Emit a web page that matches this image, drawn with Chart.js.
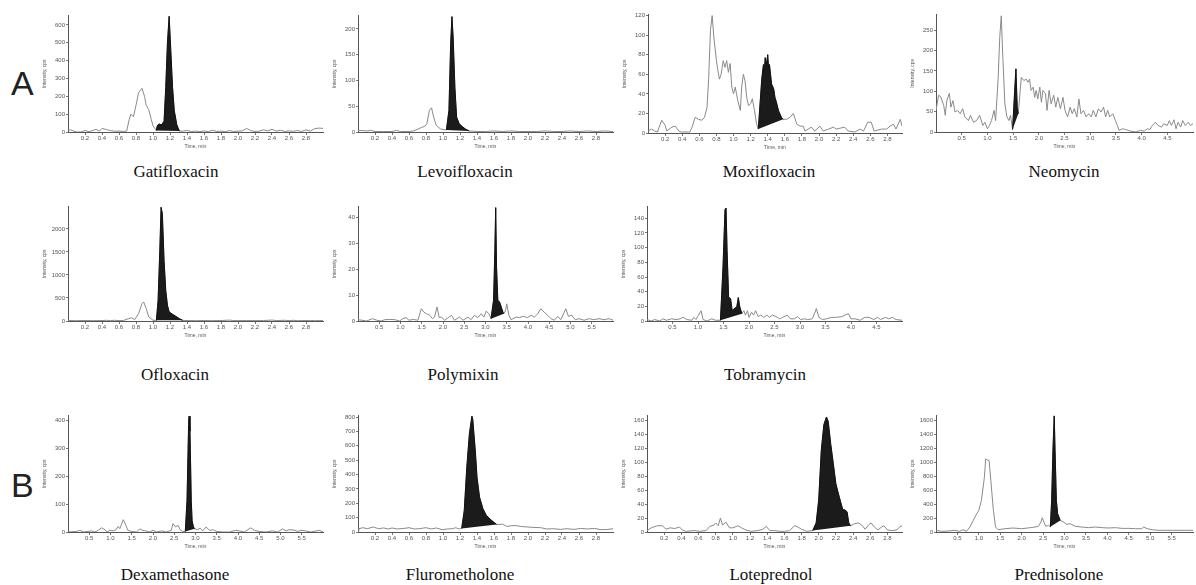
<!DOCTYPE html>
<html>
<head>
<meta charset="utf-8">
<script src="https://cdn.jsdelivr.net/npm/chart.js@4.4.0/dist/chart.umd.min.js"></script>
<style>
body{margin:0;background:#fff;}
#fig{position:relative;width:1196px;height:585px;overflow:hidden;background:#fff;}
#fig canvas{position:absolute;}
.name{position:absolute;font-family:"Liberation Serif","Times New Roman",serif;font-size:17px;color:#111;transform:translate(-50%,-50%);white-space:nowrap;}
.tag{position:absolute;font-family:"Liberation Sans",Arial,sans-serif;font-size:34px;color:#222;line-height:1;}
</style>
</head>
<body>
<div id="fig">
  <div class="tag" style="left:11px;top:66px">A</div>
  <div class="tag" style="left:11px;top:468px">B</div>
</div>
<script>
// tick labels
const xTicks3 = [0.2,0.4,0.6,0.8,1.0,1.2,1.4,1.6,1.8,2.0,2.2,2.4,2.6,2.8];
const xTicks5 = [0.5,1.0,1.5,2.0,2.5,3.0,3.5,4.0,4.5];
const xTicks6 = [0.5,1.0,1.5,2.0,2.5,3.0,3.5,4.0,4.5,5.0,5.5];

// chromatograms: [time min, intensity]
const gatiTrace = [[0,10],[0.03,12],[0.07,5],[0.1,0],[0.15,0],[0.2,8],[0.25,2],[0.3,10],[0.33,15],[0.37,5],[0.4,20],[0.45,14],[0.5,8],[0.55,4],[0.6,5],[0.65,3],[0.69,5],[0.72,70],[0.74,100],[0.77,85],[0.8,150],[0.83,220],[0.87,245],[0.9,200],[0.92,150],[0.95,125],[0.98,70],[1.0,35],[1.03,15],
  [1.04,8],[1.05,35],[1.07,45],[1.1,40],[1.13,60],[1.15,250],[1.17,500],[1.19,648],[1.21,450],[1.23,250],[1.25,120],[1.28,40],[1.31,5],
  [1.35,5],[1.4,8],[1.45,3],[1.5,5],[1.55,2],[1.6,6],[1.65,2],[1.7,10],[1.75,3],[1.8,5],[1.85,2],[1.9,8],[1.95,3],[2.0,5],[2.05,6],[2.1,20],[2.15,8],[2.2,3],[2.25,5],[2.3,12],[2.35,6],[2.4,15],[2.45,5],[2.5,10],[2.55,3],[2.6,6],[2.65,4],[2.7,8],[2.75,3],[2.8,12],[2.85,5],[2.9,18],[2.95,22],[3.0,20]];
const gatiPeak = [1.04, 1.31];
const gatiYTicks = [0,100,200,300,400,500,600];

const levoTrace = [[0,3],[0.05,3],[0.1,2],[0.15,3],[0.2,1],[0.3,1],[0.4,1],[0.45,3],[0.5,1],[0.6,1],[0.65,2],[0.71,6],[0.75,9],[0.785,11],[0.81,16],[0.84,42],[0.865,47],[0.89,29],[0.92,13],[0.97,6],[1.03,4],
  [1.04,4],[1.07,42],[1.09,170],[1.105,224],[1.12,182],[1.14,86],[1.16,29],[1.19,16],[1.23,10],[1.27,5],[1.31,2],
  [1.4,1],[1.5,1],[1.6,2],[1.7,1],[1.8,2],[1.9,1],[2.0,1],[2.1,1],[2.2,2],[2.3,1],[2.4,1],[2.5,2],[2.6,1],[2.7,2],[2.8,1],[2.9,2],[3.0,1]];
const levoPeak = [1.04, 1.31];
const levoYTicks = [0,50,100,150,200];

const moxiTrace = [[0,2],[0.04,4],[0.08,2],[0.11,1],[0.16,13],[0.2,8],[0.22,2],[0.28,6],[0.32,7],[0.36,2],[0.39,1],[0.49,1],[0.52,7],[0.55,16],[0.59,14],[0.63,13],[0.66,16],[0.69,26],[0.71,57],[0.73,105],[0.75,120],[0.77,98],[0.8,74],[0.815,65],[0.835,55],[0.855,60],[0.88,74],[0.9,67],[0.92,74],[0.94,62],[0.96,71],[0.98,47],[1.0,40],[1.02,47],[1.05,33],[1.08,23],[1.095,47],[1.115,60],[1.135,53],[1.155,36],[1.175,28],[1.2,30],[1.22,35],[1.245,23],[1.27,9],
  [1.29,4],[1.33,55],[1.35,70],[1.36,62],[1.37,77],[1.385,70],[1.4,80],[1.41,66],[1.42,70],[1.445,50],[1.47,45],[1.485,36],[1.5,32],[1.525,23],[1.56,16],[1.58,14],
  [1.62,14],[1.66,16],[1.7,20],[1.74,9],[1.78,7],[1.815,7],[1.835,2],[1.91,6],[1.95,2],[2.01,7],[2.05,2],[2.11,4],[2.17,6],[2.2,4],[2.3,6],[2.34,2],[2.42,1],[2.48,4],[2.52,2],[2.57,11],[2.61,11],[2.645,2],[2.73,4],[2.79,4],[2.83,7],[2.87,9],[2.9,4],[2.95,14],[2.97,7]];
const moxiPeak = [1.29, 1.58];
const moxiYTicks = [0,20,40,60,80,100,120];

const neoTrace = [[0,53],[0.05,90],[0.09,87],[0.15,65],[0.18,41],[0.21,77],[0.26,95],[0.29,61],[0.33,77],[0.37,49],[0.42,53],[0.47,45],[0.52,57],[0.56,37],[0.63,28],[0.67,41],[0.73,24],[0.79,28],[0.85,41],[0.91,16],[0.95,24],[1.0,8],[1.04,16],[1.08,28],[1.13,53],[1.16,28],[1.21,134],[1.24,232],[1.27,285],[1.3,183],[1.34,69],[1.38,37],[1.42,28],[1.45,41],
  [1.49,6],[1.53,100],[1.555,155],[1.58,60],[1.6,45],
  [1.66,134],[1.71,126],[1.75,130],[1.79,122],[1.82,130],[1.85,102],[1.89,110],[1.92,85],[1.95,102],[1.98,81],[2.02,110],[2.05,73],[2.08,102],[2.13,94],[2.16,53],[2.2,102],[2.24,69],[2.29,90],[2.33,61],[2.37,85],[2.42,57],[2.47,85],[2.51,53],[2.56,37],[2.61,61],[2.65,45],[2.69,57],[2.74,37],[2.78,81],[2.82,45],[2.87,53],[2.92,37],[2.97,45],[3.02,37],[3.06,53],[3.11,37],[3.16,57],[3.21,49],[3.26,61],[3.3,37],[3.34,53],[3.38,37],[3.44,45],[3.49,28],[3.53,16],[3.56,4],[3.63,8],[3.69,6],[3.79,2],[3.89,0],[3.98,4],[4.05,2],[4.11,8],[4.16,6],[4.21,16],[4.27,24],[4.32,16],[4.39,12],[4.43,20],[4.5,16],[4.54,28],[4.58,16],[4.63,30],[4.67,8],[4.71,24],[4.76,12],[4.8,28],[4.85,16],[4.91,24],[4.95,16],[5.0,20]];
const neoPeak = [1.49, 1.6];
const neoYTicks = [0,50,100,150,200,250];

const ofloTrace = [[0,10],[0.1,8],[0.2,10],[0.3,8],[0.4,10],[0.45,15],[0.5,10],[0.55,15],[0.6,8],[0.65,10],[0.71,50],[0.75,72],[0.785,30],[0.83,160],[0.87,375],[0.89,415],[0.92,270],[0.95,90],[1.0,15],
  [1.04,14],[1.06,450],[1.08,1530],[1.095,2470],[1.11,2330],[1.13,1310],[1.15,660],[1.17,340],[1.19,195],[1.23,145],[1.27,100],[1.31,50],[1.35,14],
  [1.4,10],[1.5,8],[1.6,10],[1.7,8],[1.8,10],[1.9,20],[1.95,10],[2.0,8],[2.1,10],[2.2,8],[2.3,10],[2.4,20],[2.45,10],[2.55,15],[2.6,8],[2.65,15],[2.7,8],[2.8,10],[2.85,12],[2.9,8],[3.0,10]];
const ofloPeak = [1.04, 1.35];
const ofloYTicks = [0,500,1000,1500,2000];

const polyTrace = [[0,0.5],[0.09,0.3],[0.2,0],[0.34,0.9],[0.44,0.3],[0.55,0],[0.63,0.5],[0.75,0.6],[0.87,0.5],[0.98,0],[1.05,0.9],[1.13,1.3],[1.2,0.3],[1.3,0.6],[1.41,0.3],[1.49,4.7],[1.55,3.4],[1.61,2.8],[1.69,2.2],[1.75,0.9],[1.8,1.5],[1.86,5.4],[1.91,1.3],[1.96,1.5],[2.04,0.3],[2.2,2.2],[2.27,0.3],[2.39,1.5],[2.47,0.3],[2.59,1.5],[2.66,0.5],[2.74,2.2],[2.82,1.3],[2.9,2.8],[2.96,1.5],[3.02,3.8],[3.08,2.8],
  [3.13,0.9],[3.19,8],[3.22,27],[3.24,43.6],[3.26,20.6],[3.29,8],[3.33,7.3],[3.37,5.4],[3.41,3.4],[3.43,2.8],
  [3.47,4],[3.5,6.6],[3.55,2.2],[3.6,0.5],[3.72,1.5],[3.8,1.3],[3.89,1.8],[3.99,1.3],[4.07,2.2],[4.15,1.5],[4.23,2.8],[4.3,4.7],[4.38,3.4],[4.46,2.2],[4.54,0.9],[4.62,0.3],[4.7,1.8],[4.77,0.5],[4.89,4.7],[4.95,1.8],[5.03,2.2],[5.11,0.5],[5.2,0.9],[5.32,0.3],[5.44,0.9],[5.55,0.5],[5.67,0.9],[5.79,0.5],[5.91,0.9],[6.0,0.3]];
const polyPeak = [3.13, 3.43];
const polyYTicks = [0,10,20,30,40];

const tobraTrace = [[0,2],[0.08,0],[0.15,2],[0.25,0],[0.31,3],[0.38,1],[0.48,3],[0.57,2],[0.65,3],[0.71,5],[0.78,2],[0.88,1],[0.92,5],[0.96,2],[1.01,8],[1.06,14],[1.1,2],[1.18,0],[1.27,3],[1.34,1],
  [1.44,1],[1.49,73],[1.53,152],[1.55,154],[1.57,96],[1.6,33],[1.64,30],[1.67,14],[1.71,17],[1.76,19],[1.79,32],[1.82,19],[1.86,10],
  [1.9,14],[1.93,8],[1.97,14],[2.0,5],[2.05,12],[2.09,8],[2.13,14],[2.18,6],[2.23,8],[2.29,5],[2.35,8],[2.4,5],[2.46,8],[2.53,6],[2.6,3],[2.66,5],[2.75,8],[2.81,3],[2.89,3],[2.95,6],[3.01,2],[3.09,3],[3.15,2],[3.24,3],[3.29,11],[3.32,17],[3.37,5],[3.44,2],[3.52,3],[3.62,5],[3.72,5],[3.82,6],[3.88,8],[3.95,10],[4.0,3],[4.08,3],[4.18,1],[4.27,5],[4.35,5],[4.45,2],[4.52,5],[4.58,2],[4.68,5],[4.74,3],[4.81,5],[4.88,2],[5.0,1]];
const tobraPeak = [1.44, 1.86];
const tobraYTicks = [0,20,40,60,80,100,120,140];

const dexaTrace = [[0,0],[0.2,2],[0.28,6],[0.36,0],[0.55,4],[0.63,0],[0.71,6],[0.79,15],[0.87,8],[0.92,0],[0.98,6],[1.06,4],[1.13,8],[1.18,20],[1.22,12],[1.3,44],[1.36,24],[1.41,6],[1.49,2],[1.61,0],[1.69,11],[1.75,6],[1.83,4],[1.92,0],[2.0,6],[2.08,0],[2.2,4],[2.31,0],[2.43,6],[2.47,30],[2.53,18],[2.59,24],[2.64,8],[2.7,2],
  [2.76,2],[2.8,112],[2.84,396],[2.85,414],[2.87,361],[2.9,112],[2.92,41],[2.95,18],[2.98,12],
  [3.05,8],[3.11,14],[3.17,4],[3.25,18],[3.33,6],[3.42,8],[3.5,2],[3.64,0],[3.8,0],[3.95,6],[4.03,4],[4.15,0],[4.3,15],[4.38,6],[4.5,2],[4.66,0],[4.81,4],[4.93,0],[5.05,11],[5.13,4],[5.2,8],[5.32,7],[5.4,2],[5.48,6],[5.59,4],[5.71,0],[5.91,6],[6.0,0]];
const dexaPeak = [2.76, 2.98];
const dexaYTicks = [0,100,200,300,400];

const fluroTrace = [[0,5],[0.01,23],[0.06,30],[0.11,23],[0.18,35],[0.24,23],[0.3,28],[0.36,21],[0.4,28],[0.46,21],[0.54,25],[0.6,30],[0.66,21],[0.72,23],[0.8,30],[0.86,21],[0.92,28],[0.99,16],[1.05,21],[1.11,23],[1.15,30],[1.19,21],
  [1.22,25],[1.25,150],[1.28,450],[1.31,680],[1.34,806],[1.35,783],[1.38,565],[1.4,380],[1.43,242],[1.47,161],[1.51,115],[1.54,99],[1.57,81],[1.61,62],[1.63,53],
  [1.67,53],[1.7,55],[1.75,39],[1.81,44],[1.87,44],[1.91,39],[1.99,35],[2.07,32],[2.15,30],[2.22,21],[2.3,23],[2.38,18],[2.46,23],[2.54,18],[2.62,25],[2.7,21],[2.78,25],[2.86,16],[2.94,18],[3.0,23]];
const fluroPeak = [1.22, 1.63];
const fluroYTicks = [0,100,200,300,400,500,600,700,800];

const loteTrace = [[0,2],[0.05,6],[0.12,9],[0.18,9],[0.22,4],[0.27,6],[0.32,5],[0.38,7],[0.41,3],[0.45,1],[0.55,2],[0.61,1],[0.69,2],[0.73,8],[0.78,10],[0.8,13],[0.83,9],[0.855,20],[0.88,10],[0.92,14],[0.96,6],[1.0,6],[1.06,9],[1.1,6],[1.15,3],[1.21,1],[1.29,2],[1.35,4],[1.39,8],[1.43,2],[1.49,2],[1.54,1],[1.6,1],[1.66,2],[1.72,9],[1.76,7],[1.8,4],[1.86,1],
  [1.93,2],[1.97,13],[2.0,46],[2.03,117],[2.06,154],[2.09,165],[2.11,159],[2.14,126],[2.17,98],[2.2,69],[2.24,50],[2.28,32],[2.3,32],[2.33,29],[2.35,13],[2.37,9],
  [2.42,12],[2.46,13],[2.5,10],[2.54,4],[2.58,10],[2.61,13],[2.65,7],[2.69,3],[2.73,7],[2.76,9],[2.8,3],[2.85,2],[2.91,3],[2.94,7],[2.97,9]];
const lotePeak = [1.93, 2.37];
const loteYTicks = [0,20,40,60,80,100,120,140,160];

const predTrace = [[0,24],[0.13,10],[0.28,14],[0.44,24],[0.55,10],[0.63,33],[0.71,10],[0.79,71],[0.87,166],[0.95,261],[1.0,309],[1.06,451],[1.13,783],[1.16,1045],[1.2,1030],[1.24,1021],[1.28,736],[1.34,309],[1.39,71],[1.45,33],[1.61,47],[1.8,57],[2.0,47],[2.2,62],[2.31,71],[2.39,81],[2.45,142],[2.48,204],[2.52,142],[2.56,81],[2.63,95],
  [2.67,75],[2.7,451],[2.73,1163],[2.76,1662],[2.78,1163],[2.81,451],[2.84,261],[2.9,166],
  [2.98,142],[3.05,109],[3.13,119],[3.25,81],[3.41,71],[3.56,62],[3.72,71],[3.88,62],[4.03,57],[4.19,62],[4.34,52],[4.5,52],[4.66,47],[4.8,47],[4.85,71],[4.93,47],[5.05,33],[5.2,24],[5.36,24],[5.52,24],[5.67,24],[5.83,24],[6.0,24]];
const predPeak = [2.67, 2.9];
const predYTicks = [0,200,400,600,800,1000,1200,1400,1600];

// layout: plot box [left, top, right, bottom], caption centre
const panels = [
  {name:'Gatifloxacin', trace:gatiTrace, peak:gatiPeak, yTicks:gatiYTicks, xTicks:xTicks3, xMax:3.0, yMax:652, box:[68,15,323,132], cap:[176,172]},
  {name:'Levoifloxacin', trace:levoTrace, peak:levoPeak, yTicks:levoYTicks, xTicks:xTicks3, xMax:3.0, yMax:226, box:[358,15,613,132], cap:[465,172]},
  {name:'Moxifloxacin', trace:moxiTrace, peak:moxiPeak, yTicks:moxiYTicks, xTicks:xTicks3, xMax:2.97, yMax:121, box:[648,14,902,133], cap:[769,172]},
  {name:'Neomycin', trace:neoTrace, peak:neoPeak, yTicks:neoYTicks, xTicks:xTicks5, xMax:5.0, yMax:288, box:[936,14,1193,132], cap:[1064,172]},
  {name:'Ofloxacin', trace:ofloTrace, peak:ofloPeak, yTicks:ofloYTicks, xTicks:xTicks3, xMax:3.0, yMax:2485, box:[68,206,323,321], cap:[175,375]},
  {name:'Polymixin', trace:polyTrace, peak:polyPeak, yTicks:polyYTicks, xTicks:xTicks6, xMax:6.0, yMax:44, box:[358,206,613,321], cap:[463,375]},
  {name:'Tobramycin', trace:tobraTrace, peak:tobraPeak, yTicks:tobraYTicks, xTicks:xTicks5, xMax:5.0, yMax:156, box:[647,206,902,321], cap:[765,375]},
  {name:'Dexamethasone', trace:dexaTrace, peak:dexaPeak, yTicks:dexaYTicks, xTicks:xTicks6, xMax:6.0, yMax:416, box:[68,415,323,532], cap:[175,575]},
  {name:'Flurometholone', trace:fluroTrace, peak:fluroPeak, yTicks:fluroYTicks, xTicks:xTicks3, xMax:3.0, yMax:810, box:[358,415,613,532], cap:[460,575]},
  {name:'Loteprednol', trace:loteTrace, peak:lotePeak, yTicks:loteYTicks, xTicks:xTicks3, xMax:2.97, yMax:167, box:[647,415,902,532], cap:[771,575]},
  {name:'Prednisolone', trace:predTrace, peak:predPeak, yTicks:predYTicks, xTicks:xTicks6, xMax:6.0, yMax:1665, box:[936,415,1193,532], cap:[1059,575]}
];

const fig = document.getElementById('fig');
const Y_W = 30, X_H = 20, PAD_T = 4, PAD_R = 4;
const tickFont = {family:'Liberation Sans, Arial, sans-serif', size:6};
const titleFont = {family:'Liberation Sans, Arial, sans-serif', size:5};

function makePanel(p){
  const [l, t, r, b] = p.box;
  const cv = document.createElement('canvas');
  const w = (r - l) + Y_W + PAD_R;
  const h = (b - t) + PAD_T + X_H;
  cv.width = w; cv.height = h;
  cv.style.left = (l - Y_W) + 'px';
  cv.style.top = (t - PAD_T) + 'px';
  cv.style.width = w + 'px'; cv.style.height = h + 'px';
  fig.appendChild(cv);

  const cap = document.createElement('div');
  cap.className = 'name';
  cap.textContent = p.name;
  cap.style.left = p.cap[0] + 'px';
  cap.style.top = p.cap[1] + 'px';
  fig.appendChild(cap);

  const peakPts = p.trace.filter(d => d[0] >= p.peak[0] && d[0] <= p.peak[1]);

  new Chart(cv, {
    type: 'line',
    data: {
      datasets: [
        { data: peakPts, borderColor: '#111', borderWidth: 1, backgroundColor: '#1b1b1b', fill: 'shape', pointRadius: 0, tension: 0 },
        { data: p.trace, borderColor: '#8a8a8a', borderWidth: 1, fill: false, pointRadius: 0, tension: 0 }
      ]
    },
    options: {
      responsive: false,
      animation: false,
      devicePixelRatio: 1,
      events: [],
      layout: { padding: { top: PAD_T, right: PAD_R, left: 0, bottom: 0 } },
      plugins: { legend: { display: false }, tooltip: { enabled: false } },
      scales: {
        x: {
          type: 'linear', min: 0, max: p.xMax,
          afterFit: s => { s.height = X_H; },
          afterBuildTicks: s => { s.ticks = p.xTicks.map(v => ({ value: v })); },
          ticks: { font: tickFont, color: '#555', padding: 0, autoSkip: false, maxRotation: 0, callback: v => Number(v).toFixed(1) },
          grid: { drawOnChartArea: false, tickLength: 3, color: '#777' },
          border: { color: '#555', width: 1 },
          title: { display: true, text: 'Time, min', font: titleFont, color: '#555', padding: { top: 0, bottom: 2 } }
        },
        y: {
          type: 'linear', min: 0, max: p.yMax,
          afterFit: s => { s.width = Y_W; },
          afterBuildTicks: s => { s.ticks = p.yTicks.map(v => ({ value: v })); },
          ticks: { font: tickFont, color: '#555', padding: 1, autoSkip: false, callback: v => String(v) },
          grid: { drawOnChartArea: false, tickLength: 2, color: '#777' },
          border: { color: '#555', width: 1 },
          title: { display: true, text: 'Intensity, cps', font: titleFont, color: '#555', padding: { top: 4, bottom: 0 } }
        }
      }
    }
  });
}

panels.forEach(makePanel);
</script>
</body>
</html>
